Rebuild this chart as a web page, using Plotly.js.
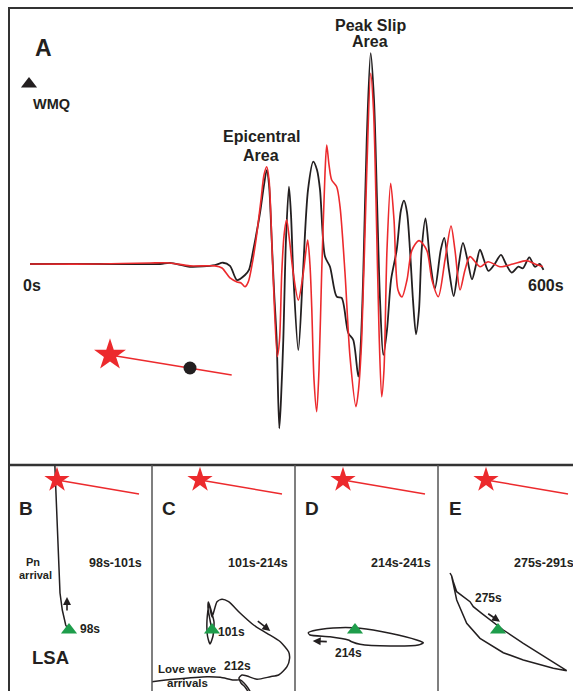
<!DOCTYPE html>
<html><head><meta charset="utf-8">
<script src="https://cdn.plot.ly/plotly-3.0.1.min.js"></script>
<style>html,body{margin:0;padding:0;background:#fff}#chart{width:573px;height:691px}</style>
</head><body><div id="chart"></div>
<script>
// ---------- Panel A : WMQ seismograms (time in s, amplitude in arbitrary units) ----------
const blackT = [0,81.6,151.5,163.1,186.4,215.5,224.8,233,241.2,250.5,255.1,260.1,268,272.6,275.8,278.5,281.6,284.3,287.4,290.4,292.4,295.1,298.2,301.7,304.1,306.7,312.6,318,323.9,330,334.4,337.9,343.7,349.5,357.3,363.1,370.8,376.6,382.5,385.6,388.3,392.3,396.9,400.8,404.3,407.8,411.6,415.9,420.6,427.2,432.2,435.7,439.2,442.7,446.2,449.7,453.2,456.3,460.8,466,471.8,478.5,482.6,488.1,493.6,498.6,504.4,509.7,514.9,519.6,524.3,528.9,534.2,540.6,548.7,554.5,561.2,568.9,574.3,581.7,588.3,593.6,598.2];
const blackA = [0,0,0,0.5,-1.3,-0.5,0.6,-0.9,-7.6,-5.2,-2.8,6.6,24.2,37.4,44.5,37.4,11.4,-12.3,-36,-77.9,-64.5,-36,11.4,36.6,23.2,-4.3,-40.8,-4.3,35.1,48.5,44.5,35.1,3.5,-1.3,-15.5,-16.1,-32.7,-36,-53.4,-36,-4.3,58.8,99.9,77.7,30.3,-17.1,-43.1,-31.3,-7.6,6.6,25.6,30,24.6,6.6,-17.1,-33.3,-21.8,6.6,21.6,1.9,-11.5,6.6,12.4,-2.8,-15.2,-2.8,10,1.9,-7.3,-0.5,6.8,1.9,-3.3,-0.5,4.3,0,-4.1,-1.3,-2,3.1,-1.3,0,-2.8];
const redT = [0,81.6,139.8,163.1,186.4,215.5,223.7,233,241.2,245.9,250.5,254.3,258.6,263.3,269.1,272.6,275.8,278.5,283.1,288.1,290.7,293.3,296,299,302.3,306.7,312.6,318.4,323.5,326.2,328.2,330.9,334,336.7,339.8,343.7,345.7,348.4,351.5,357.3,361.2,367,372.8,379.8,382.7,386.4,392.3,396.9,400.2,403.1,406.6,409.7,412.4,415.9,420.2,424.1,428.7,433.4,439.2,445,453.2,462.2,468.3,475.7,483.5,490.5,495.1,501,506.8,512.6,524.3,533.6,547.6,562.7,578.7,588.3,597.6];
const redA = [0,0,0.5,0.5,-0.9,-0.9,-1.9,-6.6,-8.5,-9,-10.8,-8.5,-0.5,11.4,30.3,42.2,46.1,39.8,-4.3,-43.9,-36,-4.3,13.7,20.9,11.4,-4.3,-17.1,-4.3,11.4,-0.5,-20.2,-55,-70,-50.2,-4.3,43.1,56.4,46.9,39.8,36.6,27.2,-4.3,-43.9,-67.6,-59.7,-36,43.1,90.4,73,30.3,-31.3,-62.9,-50.2,6.6,38.2,20.9,-12.3,-15.6,-7.6,6.6,11.1,6.6,-7.6,-15.5,1.9,18,6.6,-12.3,-2.8,3.5,-1.3,1.1,-1.3,0,1.6,0,-1.3];

// Panel A inset map (local units, epicentre at origin)
const mapFaultX = [0, 121.7];
const mapFaultY = [0, -20];
const mapEpiX = [0], mapEpiY = [0];
const mapPeakX = [80], mapPeakY = [-13];
const mapStaX = [-81], mapStaY = [271];

// Panels B-E: particle motion at LSA (local units, station at origin)
const subFaultX = [-12, 70];
const subFaultY = [150, 136];
const subEpiX = [-12], subEpiY = [150];
const pmB_E = [-14.2,-11.7,-9,-6.7,-3.3,-1];
const pmB_N = [166,103.3,37,20,5,1];
const pmC_E = [0,-2,-4,-3.5,-1,2,1,-2,-4.5,-5,-3,0,5,10,16.6,28.3,41.6,55,68.3,76.6,77.6,75,66.6,58.3,45,35,30,27,29,33,37];
const pmC_N = [0,10,22,28,20,8,-6,-14,-6,10,26,13,28.3,30.7,28.3,16.7,5,-3.3,-11.7,-21.7,-28.3,-36.7,-45,-46.7,-49.3,-46,-45,-48,-53,-57,-63];
const loveE = [-62,-38.4,-5,8.3,21.6,28.3,32,36,39];
const loveN = [-51.9,-49.3,-46.7,-47.3,-50,-50,-53,-58,-63];
const pmD_E = [-6.7,-25,-45,-46.7,-38.3,-15,5,35,61.7,68.3,63.3,35,5,-3.3,-6.7];
const pmD_N = [-10,-6.7,-5,-2.7,0,2.3,1.7,-3.3,-10,-12.7,-15,-16,-14.3,-11.7,-10];
const pmE_E = [-48,-46.3,-44.7,-41.3,-28,-24.7,-16.3,5.3,25.3,52,68.7,55.3,25.3,5.3,-18,-31.3,-41.3,-46.3];
const pmE_N = [57,54,48.3,38.3,28.3,23.3,16.7,0,-13.3,-30,-40.7,-38.3,-30,-22.7,-8.3,6.7,30,53.3];
// motion arrows [tailE, tailN, headE, headN]
const arrowB = [-2, 18, -2, 33];
const arrowC = [44.3, 10, 58.3, -1];
const arrowD = [-26.7, -11.7, -42.3, -11];
const arrowE = [-11.3, 17.3, 2, 8.3];
const timeLabels = ['98s-101s','101s-214s','214s-241s','275s-291s'];
const panelLetters = ['B','C','D','E'];

// ---------- geometry ----------
const W = 573, H = 691;
const PX = x => x / W;
const PY = y => 1 - y / H;
const A = {l: 9, r: 573, t: 8, b: 465};
const t0px = 30, t1px = 545, basePx = 264, pxPerUnit = 2.11;
const sPerPx = 600 / (t1px - t0px);
const subL = [9, 152, 295, 438], subR = [152, 295, 438, 573];
const subTop = 465, subBot = 691, staDx = 60, staY = 630;

const font = (s, c) => ({family: 'Liberation Sans, Arial, sans-serif', size: s, color: c || '#231f20', weight: 'bold'});
const BLACK = '#231f20', RED = '#ec2a2d', GREEN = '#1e9d4b';

const layout = {
  width: W, height: H, margin: {l: 0, r: 0, t: 0, b: 0},
  paper_bgcolor: '#fff', plot_bgcolor: 'rgba(0,0,0,0)', showlegend: false,
  xaxis: {domain: [PX(A.l), PX(A.r)], range: [(A.l - t0px) * sPerPx, (A.r - t0px) * sPerPx], visible: false, anchor: 'y'},
  yaxis: {domain: [PY(A.b), PY(A.t)], range: [(basePx - A.b) / pxPerUnit, (basePx - A.t) / pxPerUnit], visible: false, anchor: 'x'},
  xaxis2: {domain: [PX(A.l), PX(A.r)], range: [A.l - 110, A.r - 110], visible: false, anchor: 'y2'},
  yaxis2: {domain: [PY(A.b), PY(A.t)], range: [355 - A.b, 355 - A.t], visible: false, anchor: 'x2'},
  shapes: [], annotations: []
};
for (let i = 0; i < 4; i++) {
  const n = i + 3, ox = subL[i] + staDx;
  layout['xaxis' + n] = {domain: [PX(subL[i]), PX(subR[i])], range: [subL[i] - ox, subR[i] - ox], visible: false, anchor: 'y' + n};
  layout['yaxis' + n] = {domain: [PY(subBot), PY(subTop)], range: [staY - subBot, staY - subTop], visible: false, anchor: 'x' + n};
}

const traces = [
  {x: blackT, y: blackA, xaxis: 'x', yaxis: 'y', mode: 'lines', line: {color: BLACK, width: 1.8, shape: 'spline', smoothing: 0.8}},
  {x: redT, y: redA, xaxis: 'x', yaxis: 'y', mode: 'lines', line: {color: RED, width: 1.6, shape: 'spline', smoothing: 0.8}},
  {x: mapFaultX, y: mapFaultY, xaxis: 'x2', yaxis: 'y2', mode: 'lines', line: {color: RED, width: 1.5}},
  {x: mapEpiX, y: mapEpiY, xaxis: 'x2', yaxis: 'y2', mode: 'markers', marker: {symbol: 'star', size: 24, color: RED}},
  {x: mapPeakX, y: mapPeakY, xaxis: 'x2', yaxis: 'y2', mode: 'markers', marker: {symbol: 'circle', size: 13, color: BLACK}},
  {x: mapStaX, y: mapStaY, xaxis: 'x2', yaxis: 'y2', mode: 'markers', marker: {symbol: 'triangle-up', size: 14, color: BLACK}}
];
const pms = [
  [[pmB_E, pmB_N, 'linear']],
  [[pmC_E, pmC_N, 'spline'], [loveE, loveN, 'spline']],
  [[pmD_E, pmD_N, 'spline']],
  [[pmE_E, pmE_N, 'linear']]
];
const arrows = [arrowB, arrowC, arrowD, arrowE];
for (let i = 0; i < 4; i++) {
  const xa = 'x' + (i + 3), ya = 'y' + (i + 3);
  traces.push({x: subFaultX, y: subFaultY, xaxis: xa, yaxis: ya, mode: 'lines', line: {color: RED, width: 1.5}});
  pms[i].forEach(p => traces.push({x: p[0], y: p[1], xaxis: xa, yaxis: ya, mode: 'lines', line: {color: BLACK, width: 1.5, shape: p[2], smoothing: 0.6}}));
  traces.push({x: subEpiX, y: subEpiY, xaxis: xa, yaxis: ya, mode: 'markers', marker: {symbol: 'star', size: 19, color: RED}});
  traces.push({x: [0], y: [0], xaxis: xa, yaxis: ya, mode: 'markers', marker: {symbol: 'triangle-up', size: 14, color: GREEN}});
  const a = arrows[i];
  layout.annotations.push({xref: xa, yref: ya, axref: xa, ayref: ya, x: a[2], y: a[3], ax: a[0], ay: a[1],
    showarrow: true, arrowhead: 2, arrowsize: 1, arrowwidth: 1.6, arrowcolor: BLACK, text: ''});
  layout.annotations.push({xref: 'paper', yref: 'paper', x: PX(subL[i] + 17), y: PY(508), text: panelLetters[i], showarrow: false, font: font(19), xanchor: 'center', yanchor: 'middle'});
  layout.annotations.push({xref: 'paper', yref: 'paper', x: PX(subL[i] + 106), y: PY(563), text: timeLabels[i], showarrow: false, font: font(12.5), xanchor: 'center', yanchor: 'middle'});
}

// frames
const ln = (x0, y0, x1, y1, c, w) => ({type: 'line', xref: 'paper', yref: 'paper', x0: PX(x0), y0: PY(y0), x1: PX(x1), y1: PY(y1), line: {color: c, width: w}});
layout.shapes.push(ln(9, 8, 580, 8, '#333', 2));
layout.shapes.push(ln(9, 7, 9, 700, '#333', 2));
layout.shapes.push(ln(9, 465, 580, 465, '#333', 2.5));
[152, 295, 438].forEach(x => layout.shapes.push(ln(x, 465, x, 700, '#555', 1.5)));

const txt = (x, y, t, s, anchor) => layout.annotations.push({xref: 'paper', yref: 'paper', x: PX(x), y: PY(y), text: t, showarrow: false, font: font(s), xanchor: anchor || 'center', yanchor: 'middle'});
txt(43, 48, 'A', 23);
txt(51, 104, 'WMQ', 14.5);
txt(261, 137, 'Epicentral', 16);
txt(261, 155, 'Area', 16);
txt(370, 25, 'Peak Slip', 16);
txt(370, 42, 'Area', 16);
txt(32, 285, '0s', 16);
txt(546, 285, '600s', 16);
// sub-panel texts
txt(33, 562, 'Pn', 11);
txt(35, 575, 'arrival', 11);
txt(90, 629, '98s', 12);
txt(50, 657, 'LSA', 18.5);
txt(231, 632, '101s', 12);
txt(187, 669, 'Love wave', 11.5);
txt(187, 683, 'arrivals', 11.5);
txt(237, 666, '212s', 12);
txt(348, 653, '214s', 12);
txt(488, 598, '275s', 12);

Plotly.newPlot('chart', traces, layout, {staticPlot: true, displayModeBar: false});
</script></body></html>
